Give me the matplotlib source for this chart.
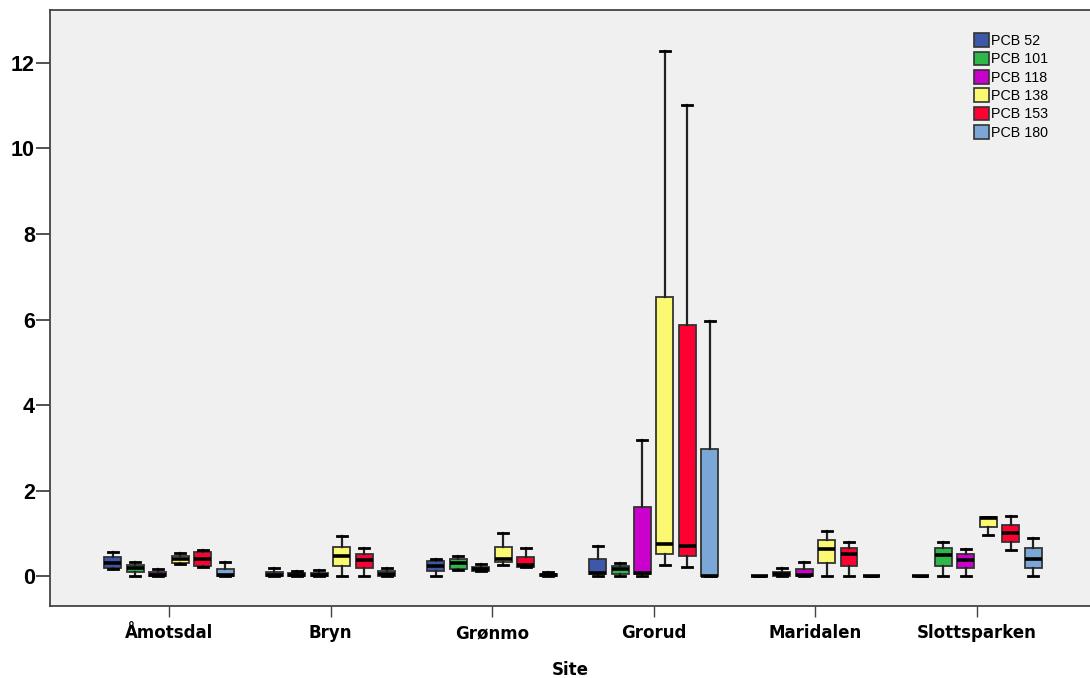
import matplotlib
matplotlib.use("Agg")
import matplotlib.pyplot as plt
from matplotlib.patches import Patch

plt.rcParams["font.family"] = ["Liberation Sans", "DejaVu Sans"]

sites = ["Åmotsdal", "Bryn", "Grønmo", "Grorud", "Maridalen", "Slottsparken"]
series = ["PCB 52", "PCB 101", "PCB 118", "PCB 138", "PCB 153", "PCB 180"]
colors = ["#3d58a8", "#2fb84a", "#cc00cc", "#fbf872", "#ff0033", "#7aa7d6"]

# Box statistics per congener, one value per site (ng/g)
whislo = {
    "PCB 52":  [0.17, 0.00, 0.00, 0.00, 0.00, 0.00],
    "PCB 101": [0.00, 0.00, 0.14, 0.00, 0.00, 0.00],
    "PCB 118": [0.00, 0.00, 0.12, 0.00, 0.00, 0.00],
    "PCB 138": [0.28, 0.00, 0.27, 0.26, 0.00, 0.96],
    "PCB 153": [0.22, 0.00, 0.22, 0.22, 0.00, 0.61],
    "PCB 180": [0.00, 0.00, 0.00, 0.00, 0.00, 0.00],
}
q1 = {
    "PCB 52":  [0.18, 0.00, 0.12, 0.05, 0.00, 0.00],
    "PCB 101": [0.09, 0.00, 0.16, 0.06, 0.00, 0.24],
    "PCB 118": [0.00, 0.00, 0.12, 0.05, 0.00, 0.20],
    "PCB 138": [0.31, 0.23, 0.33, 0.51, 0.31, 1.15],
    "PCB 153": [0.23, 0.20, 0.22, 0.47, 0.24, 0.80],
    "PCB 180": [0.00, 0.00, 0.00, 0.00, 0.00, 0.20],
}
median = {
    "PCB 52":  [0.31, 0.02, 0.23, 0.07, 0.00, 0.00],
    "PCB 101": [0.18, 0.02, 0.30, 0.16, 0.05, 0.49],
    "PCB 118": [0.02, 0.02, 0.17, 0.08, 0.02, 0.37],
    "PCB 138": [0.40, 0.47, 0.40, 0.76, 0.63, 1.35],
    "PCB 153": [0.40, 0.37, 0.25, 0.71, 0.51, 1.00],
    "PCB 180": [0.02, 0.05, 0.02, 0.00, 0.00, 0.39],
}
q3 = {
    "PCB 52":  [0.45, 0.10, 0.36, 0.41, 0.00, 0.00],
    "PCB 101": [0.26, 0.08, 0.39, 0.23, 0.10, 0.65],
    "PCB 118": [0.09, 0.08, 0.22, 1.62, 0.16, 0.51],
    "PCB 138": [0.48, 0.69, 0.69, 6.53, 0.84, 1.39],
    "PCB 153": [0.57, 0.51, 0.45, 5.87, 0.65, 1.19],
    "PCB 180": [0.16, 0.12, 0.05, 2.98, 0.00, 0.65],
}
whishi = {
    "PCB 52":  [0.56, 0.19, 0.39, 0.70, 0.00, 0.00],
    "PCB 101": [0.32, 0.13, 0.48, 0.30, 0.19, 0.80],
    "PCB 118": [0.16, 0.15, 0.28, 3.18, 0.32, 0.63],
    "PCB 138": [0.53, 0.94, 1.00, 12.28, 1.05, 1.39],
    "PCB 153": [0.60, 0.65, 0.66, 11.02, 0.80, 1.40],
    "PCB 180": [0.32, 0.20, 0.09, 5.97, 0.00, 0.90],
}

fig = plt.figure(figsize=(10.9, 6.78), dpi=100)
ax = fig.add_axes([0.0459, 0.1062, 0.9541, 0.8791])
ax.set_facecolor("#f0f0f0")

step = 0.139
box_w = 0.105
for i, name in enumerate(series):
    stats = []
    for j in range(len(sites)):
        stats.append({
            "whislo": whislo[name][j], "q1": q1[name][j], "med": median[name][j],
            "q3": q3[name][j], "whishi": whishi[name][j], "fliers": [],
        })
    positions = [j + (i - 2.5) * step for j in range(len(sites))]
    ax.bxp(stats, positions=positions, widths=box_w, capwidths=0.062,
           patch_artist=True, showfliers=False, manage_ticks=False,
           boxprops=dict(facecolor=colors[i], edgecolor="#333333", linewidth=1.3),
           medianprops=dict(color="black", linewidth=2.6, solid_capstyle="butt"),
           whiskerprops=dict(color="#222222", linewidth=1.6),
           capprops=dict(color="black", linewidth=2.0))

ax.set_xlim(-0.736, 5.70)
ax.set_ylim(-0.70, 13.24)
ax.set_xticks(range(len(sites)))
ax.set_xticklabels(sites, fontsize=12, fontweight="bold", family="DejaVu Sans")
ax.set_yticks([0, 2, 4, 6, 8, 10, 12])
ax.tick_params(axis="y", labelsize=15.5, length=10, width=1.2, pad=1,
               color="#333333")
for lab in ax.get_yticklabels():
    lab.set_fontweight("bold")
ax.tick_params(axis="x", length=8, width=1.0, pad=5, color="#444444")
ax.set_xlabel("Site", fontsize=12, fontweight="bold", family="DejaVu Sans",
              labelpad=14)

for side in ("left", "bottom", "top"):
    ax.spines[side].set_color("#444444")
    ax.spines[side].set_linewidth(1.3)
ax.spines["right"].set_visible(False)

handles = [Patch(facecolor=c, edgecolor="#333333", linewidth=1.2, label=s)
           for c, s in zip(colors, series)]
ax.legend(handles=handles, loc="upper right", bbox_to_anchor=(0.968, 0.975),
          frameon=False, fontsize=10.3, handlelength=1.1, handleheight=1.1,
          handletextpad=0.12, labelspacing=0.25, borderaxespad=0.2)

fig.savefig("out.png", dpi=100, facecolor="white")
